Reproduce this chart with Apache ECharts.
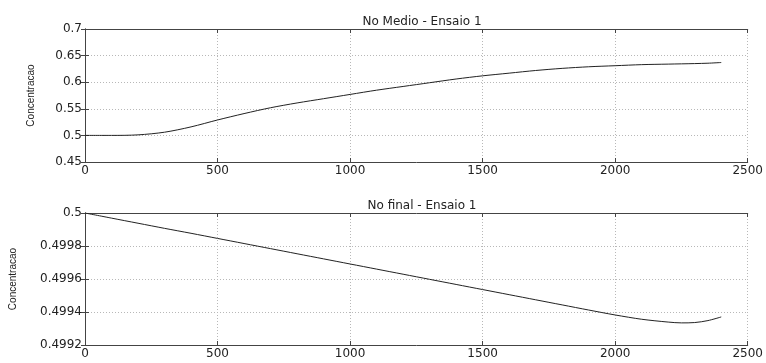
<!DOCTYPE html>
<html><head><meta charset="utf-8">
<script src="https://cdn.jsdelivr.net/npm/echarts@6/dist/echarts.min.js"></script>
<style>html,body{margin:0;padding:0;background:#fff}#c{width:766px;height:363px}</style>
</head><body><div id="c"></div>
<script>
var timeSteps = [0,100,200,300,400,500,600,700,800,900,1000,1100,1200,1300,1400,1500,1600,1700,1800,1900,2000,2100,2200,2250,2300,2350,2400];
var medioValues = [0.5,0.5,0.501,0.506,0.516,0.529,0.541,0.552,0.561,0.569,0.577,0.585,0.592,0.599,0.606,0.612,0.617,0.622,0.626,0.629,0.631,0.633,0.634,0.6345,0.635,0.6357,0.637];
var finalValues = [0.5,0.499969,0.499938,0.499907,0.499877,0.499846,0.499815,0.499784,0.499753,0.499722,0.499691,0.49966,0.499629,0.499598,0.499567,0.499536,0.499505,0.499474,0.499443,0.499412,0.499382,0.499356,0.499339,0.499334,0.499336,0.499348,0.49937];
var xTicks = [0,500,1000,1500,2000,2500];
var titles = ['No Medio - Ensaio 1','No final - Ensaio 1'];
var yName = 'Concentracao';

var font = 'DejaVu Sans, sans-serif';
var grids = [
  {left:85, right:17, top:29, height:133},
  {left:85, right:17, top:213, height:132}
];
function pair(a,b){ return a.map(function(x,i){return [x,b[i]];}); }
var xAxes = [], yAxes = [];
var yCfg = [
  {min:0.45, max:0.7, interval:0.05, fmt:function(v){return +v.toFixed(2)+'';}, gap:49},
  {min:0.4992, max:0.5, interval:0.0002, fmt:function(v){return +v.toFixed(4)+'';}, gap:67}
];
var axisCol = '#444';
var gridCol = '#b8b8b8';
for (var g=0; g<2; g++){
  xAxes.push({gridIndex:g, type:'value', min:xTicks[0], max:xTicks[xTicks.length-1], interval:xTicks[1]-xTicks[0], position:'bottom',
    axisLine:{show:true,lineStyle:{color:axisCol,width:1}},
    axisTick:{show:true,inside:true,length:4,lineStyle:{color:axisCol}},
    axisLabel:{color:'#222',fontSize:12,fontFamily:font,margin:3,formatter:function(v){return String(v);}},
    splitLine:{show:true,lineStyle:{color:gridCol,type:[1,2],width:1}}});
  xAxes.push({gridIndex:g, type:'value', min:xTicks[0], max:xTicks[xTicks.length-1], interval:xTicks[1]-xTicks[0], position:'top',
    axisLine:{show:true,lineStyle:{color:axisCol,width:1}},
    axisTick:{show:true,inside:true,length:4,lineStyle:{color:axisCol}},
    axisLabel:{show:false}, splitLine:{show:false}});
  var c = yCfg[g];
  yAxes.push({gridIndex:g, type:'value', min:c.min, max:c.max, interval:c.interval, position:'left',
    name:yName, nameLocation:'middle', nameGap:c.gap, nameRotate:90,
    nameTextStyle:{color:'#222',fontSize:10,fontFamily:'Liberation Sans, sans-serif'},
    axisLine:{show:true,lineStyle:{color:axisCol,width:1}},
    axisTick:{show:true,inside:true,length:4,lineStyle:{color:axisCol}},
    axisLabel:{color:'#222',fontSize:12,fontFamily:font,margin:3,formatter:c.fmt},
    splitLine:{show:true,lineStyle:{color:gridCol,type:[1,2],width:1}}});
  yAxes.push({gridIndex:g, type:'value', min:c.min, max:c.max, interval:c.interval, position:'right',
    axisLine:{show:true,lineStyle:{color:axisCol,width:1}},
    axisTick:{show:true,inside:true,length:4,lineStyle:{color:axisCol}},
    axisLabel:{show:false}, splitLine:{show:false}});
}
var chart = echarts.init(document.getElementById('c'), null, {renderer:'canvas'});
chart.setOption({
  animation:false,
  backgroundColor:'#fff',
  title:[
    {text:titles[0], left:417, top:11, textAlign:'center', textStyle:{fontSize:12,fontWeight:'normal',color:'#222',fontFamily:font}},
    {text:titles[1], left:417, top:195, textAlign:'center', textStyle:{fontSize:12,fontWeight:'normal',color:'#222',fontFamily:font}}
  ],
  grid:grids,
  xAxis:xAxes,
  yAxis:yAxes,
  series:[
    {type:'line', xAxisIndex:0, yAxisIndex:0, data:pair(timeSteps,medioValues), smooth:0.3, showSymbol:false, lineStyle:{color:'#222',width:1}},
    {type:'line', xAxisIndex:2, yAxisIndex:2, data:pair(timeSteps,finalValues), smooth:0.3, showSymbol:false, lineStyle:{color:'#222',width:1}}
  ]
});
</script></body></html>
